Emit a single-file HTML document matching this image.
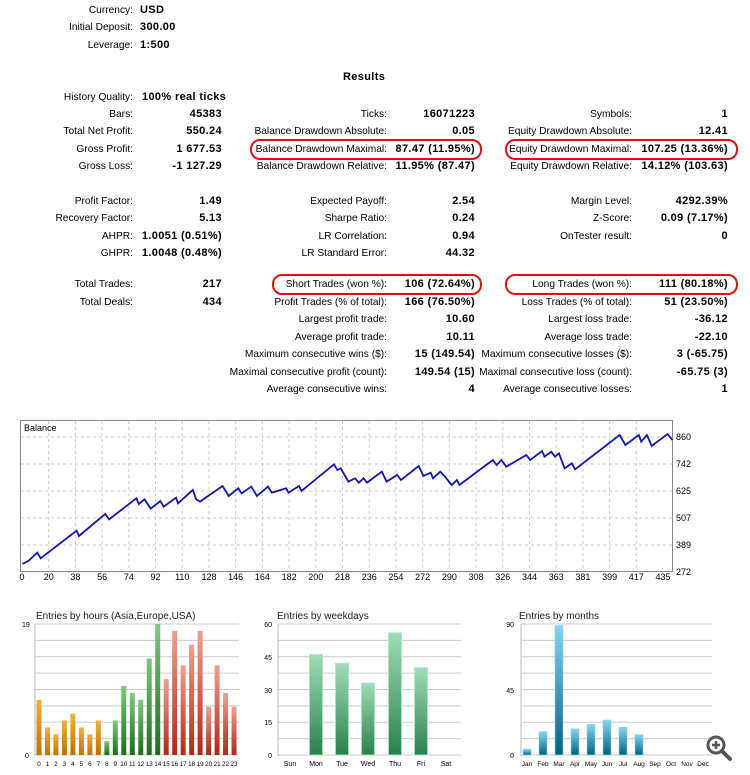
<!DOCTYPE html>
<html><head><meta charset="utf-8"><style>
body{margin:0;width:750px;height:775px;background:#fff;position:relative;overflow:hidden;font-family:"Liberation Sans",Arial,sans-serif;font-size:10.2px;color:#000}
.t{position:absolute;white-space:nowrap;line-height:14px;margin-top:1px}
.b{font-weight:bold;font-size:11px;letter-spacing:0.35px;margin-top:0}
.ov{position:absolute;border:2px solid #e01010;border-radius:10px}
</style></head><body>
<div class="t" style="right:617px;top:3px">Currency:</div><div class="t b" style="left:140px;top:3px">USD</div>
<div class="t" style="right:617px;top:20px">Initial Deposit:</div><div class="t b" style="left:140px;top:20px">300.00</div>
<div class="t" style="right:617px;top:38px">Leverage:</div><div class="t b" style="left:140px;top:38px">1:500</div>
<div class="t b" style="left:343px;top:70px">Results</div>
<div class="t" style="right:617px;top:90px">History Quality:</div><div class="t b" style="left:142px;top:90px">100% real ticks</div>

<div class="ov" style="left:250px;top:139px;width:228px;height:17px"></div>
<div class="ov" style="left:505px;top:139px;width:229px;height:17px"></div>
<div class="ov" style="left:272px;top:274px;width:206px;height:17px"></div>
<div class="ov" style="left:505px;top:274px;width:229px;height:17px"></div>

<div id="rows"></div>
<script>
var R=[
[107,"Bars:","45383","Ticks:","16071223","Symbols:","1"],
[124,"Total Net Profit:","550.24","Balance Drawdown Absolute:","0.05","Equity Drawdown Absolute:","12.41"],
[142,"Gross Profit:","1 677.53","Balance Drawdown Maximal:","87.47 (11.95%)","Equity Drawdown Maximal:","107.25 (13.36%)"],
[159,"Gross Loss:","-1 127.29","Balance Drawdown Relative:","11.95% (87.47)","Equity Drawdown Relative:","14.12% (103.63)"],
[194,"Profit Factor:","1.49","Expected Payoff:","2.54","Margin Level:","4292.39%"],
[211,"Recovery Factor:","5.13","Sharpe Ratio:","0.24","Z-Score:","0.09 (7.17%)"],
[229,"AHPR:","1.0051 (0.51%)","LR Correlation:","0.94","OnTester result:","0"],
[246,"GHPR:","1.0048 (0.48%)","LR Standard Error:","44.32","",""],
[277,"Total Trades:","217","Short Trades (won %):","106 (72.64%)","Long Trades (won %):","111 (80.18%)"],
[295,"Total Deals:","434","Profit Trades (% of total):","166 (76.50%)","Loss Trades (% of total):","51 (23.50%)"],
[312,"","","Largest profit trade:","10.60","Largest loss trade:","-36.12"],
[330,"","","Average profit trade:","10.11","Average loss trade:","-22.10"],
[347,"","","Maximum consecutive wins ($):","15 (149.54)","Maximum consecutive losses ($):","3 (-65.75)"],
[365,"","","Maximal consecutive profit (count):","149.54 (15)","Maximal consecutive loss (count):","-65.75 (3)"],
[382,"","","Average consecutive wins:","4","Average consecutive losses:","1"]];
var X=[133,222,387,475,632,728],h="";
R.forEach(function(r){for(var i=0;i<6;i++){if(r[i+1])h+='<div class="t'+(i%2?' b':'')+'" style="right:'+(750-X[i])+'px;top:'+r[0]+'px">'+r[i+1]+'</div>';}});
document.getElementById('rows').innerHTML=h;
</script>

<svg style="position:absolute;left:0;top:0" width="750" height="775" font-family="Liberation Sans,Arial,sans-serif">
<defs>
<linearGradient id="go" x1="0" y1="0" x2="0" y2="1"><stop offset="0" stop-color="#f0b040"/><stop offset="1" stop-color="#c07000"/></linearGradient>
<linearGradient id="gg" x1="0" y1="0" x2="0" y2="1"><stop offset="0" stop-color="#80c880"/><stop offset="1" stop-color="#187018"/></linearGradient>
<linearGradient id="gr" x1="0" y1="0" x2="0" y2="1"><stop offset="0" stop-color="#eea090"/><stop offset="1" stop-color="#b02818"/></linearGradient>
<linearGradient id="gw" x1="0" y1="0" x2="0" y2="1"><stop offset="0" stop-color="#a0dcb8"/><stop offset="1" stop-color="#2a8050"/></linearGradient>
<linearGradient id="gm" x1="0" y1="0" x2="0" y2="1"><stop offset="0" stop-color="#88d4ec"/><stop offset="1" stop-color="#056080"/></linearGradient>
</defs>
<rect x="20.5" y="420.5" width="652" height="151" fill="#fff" stroke="#888"/>
<g stroke="#ccc" stroke-dasharray="3,3">
<line x1="21" x2="672" y1="437" y2="437"/><line x1="21" x2="672" y1="464" y2="464"/><line x1="21" x2="672" y1="491" y2="491"/><line x1="21" x2="672" y1="518" y2="518"/><line x1="21" x2="672" y1="545" y2="545"/>
</g>
<g id="vg" stroke="#ccc" stroke-dasharray="3,3"></g>
<text x="24" y="431" font-size="9">Balance</text>
<g font-size="9" fill="#000">
<text x="676" y="440">860</text><text x="676" y="467">742</text><text x="676" y="494">625</text><text x="676" y="521">507</text><text x="676" y="548">389</text><text x="676" y="575">272</text>
</g>
<g id="xl" font-size="9" text-anchor="middle"></g>
<polyline fill="none" stroke="#1515a8" stroke-width="1.8" transform="translate(0,410) scale(0.4785,0.3333)" style="vector-effect:non-scaling-stroke" points="47,462 60,452 78,428 85,445 160,362 165,378 220,312 228,328 285,265 290,282 302,268 315,296 335,273 342,290 368,263 372,280 403,240 410,268 418,275 465,228 478,258 498,235 505,250 525,230 537,258 560,230 568,248 598,235 603,248 625,228 630,243 698,163 705,180 712,175 728,215 742,205 750,218 760,205 767,218 798,185 808,215 830,195 838,210 875,168 885,198 900,188 905,205 920,185 930,200 944,225 955,210 960,225 1030,150 1038,165 1048,150 1058,170 1100,135 1108,150 1133,123 1138,140 1152,125 1160,140 1168,130 1180,175 1195,160 1202,178 1295,75 1307,105 1335,75 1340,95 1352,75 1362,108 1395,72 1405,90"/>

<text x="36" y="619" font-size="10" fill="#222">Entries by hours (Asia,Europe,USA)</text>
<g id="hg" stroke="#ccc"></g>
<line x1="35" y1="624" x2="35" y2="756" stroke="#bbb"/>
<text x="22" y="627" font-size="7">19</text><text x="25" y="758" font-size="7">0</text>
<g id="hb"></g>
<text x="277" y="619" font-size="10" fill="#222">Entries by weekdays</text>
<g id="wg" stroke="#ccc"></g>
<line x1="278" y1="624" x2="278" y2="756" stroke="#bbb"/>
<g font-size="7" text-anchor="end"><text x="272" y="627">60</text><text x="272" y="660">45</text><text x="272" y="693">30</text><text x="272" y="725">15</text><text x="272" y="758">0</text></g>
<g id="wb"></g>
<text x="519" y="619" font-size="10" fill="#222">Entries by months</text>
<g id="mg" stroke="#ccc"></g>
<line x1="521" y1="624" x2="521" y2="756" stroke="#bbb"/>
<g font-size="7" text-anchor="end"><text x="514" y="627">90</text><text x="514" y="693">45</text><text x="514" y="758">0</text></g>
<g id="mb"></g>
<circle cx="716" cy="745" r="8" fill="none" stroke="#555" stroke-width="3"/>
<line x1="722" y1="751" x2="730" y2="759" stroke="#555" stroke-width="4" stroke-linecap="round"/>
<path d="M712 745h8M716 741v8" stroke="#555" stroke-width="2.5"/>
</svg>
<script>
var NS="http://www.w3.org/2000/svg";
function el(p,t,a,txt){var e=document.createElementNS(NS,t);for(var k in a)e.setAttribute(k,a[k]);if(txt!=null)e.textContent=txt;document.getElementById(p).appendChild(e);}
var xl=[0,20,38,56,74,92,110,128,146,164,182,200,218,236,254,272,290,308,326,344,363,381,399,417,435];
xl.forEach(function(v,i){var x=22+i*(641/24);el('xl','text',{x:x,y:580},v);if(i>0&&i<24)el('vg','line',{x1:x,x2:x,y1:421,y2:571});});
function grid(id,x1,x2,n){for(var i=0;i<=n;i++){var y=624+i*131/n;el(id,'line',{x1:x1,x2:x2,y1:y,y2:y});}}
grid('hg',35,239,8);grid('wg',278,461,8);grid('mg',521,712,8);
var H=[8,4,3,5,6,4,3,5,2,5,10,9,8,14,19,11,18,13,16,18,7,13,9,7];
H.forEach(function(v,i){var x=39+i*8.48,h=v*131/19,f=i<8?'url(#go)':(i<15?'url(#gg)':'url(#gr)');
el('hb','rect',{x:x-2.5,y:755-h,width:5,height:h,fill:f});el('hb','text',{x:x,y:766,'font-size':6.3,'text-anchor':'middle'},i);});
var W=[["Sun",290,0],["Mon",316,46],["Tue",342,42],["Wed",368,33],["Thu",395,56],["Fri",421,40],["Sat",446,0]];
W.forEach(function(w,i){var h=w[2]*131/60;if(h)el('wb','rect',{x:w[1]-6.5,y:755-h,width:13,height:h,fill:'url(#gw)',stroke:'#a8e8c0','stroke-width':0.8});
el('wb','text',{x:w[1],y:766,'font-size':7,'text-anchor':'middle'},w[0]);});
var M=[["Jan",4],["Feb",16],["Mar",89],["Apr",18],["May",21],["Jun",24],["Jul",19],["Aug",14],["Sep",0],["Oct",0],["Nov",0],["Dec",0]];
M.forEach(function(m,i){var x=527+i*16,h=m[1]*131/90;if(h)el('mb','rect',{x:x-4,y:755-h,width:8,height:h,fill:'url(#gm)',stroke:'#80d8f0','stroke-width':0.6});
el('mb','text',{x:x,y:766,'font-size':6.5,'text-anchor':'middle'},m[0]);});
</script>
</body></html>
